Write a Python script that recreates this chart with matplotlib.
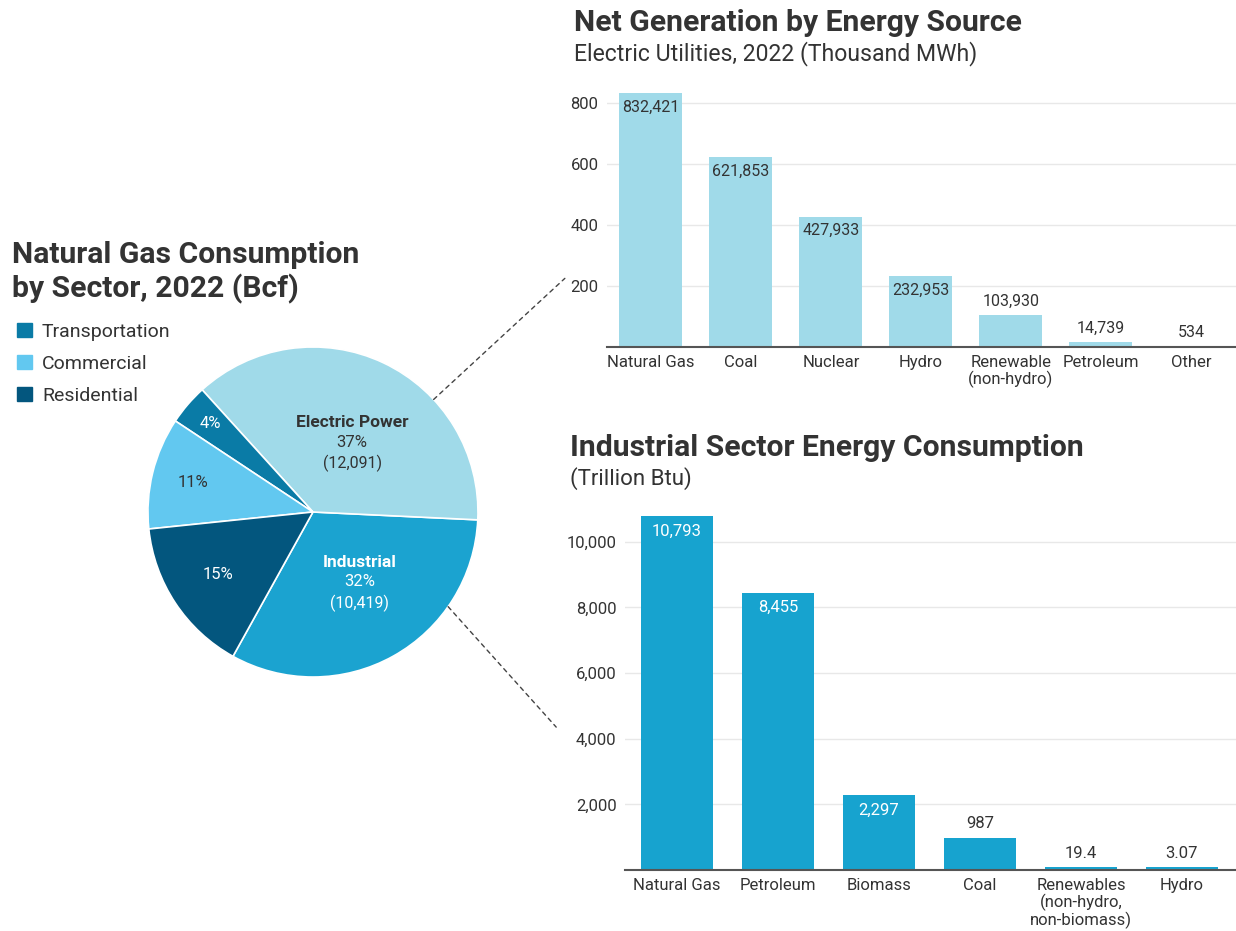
import numpy as np
import matplotlib
matplotlib.use("Agg")
import matplotlib.pyplot as plt
from matplotlib.patches import Patch, ConnectionPatch

plt.rcParams['font.family'] = ['Roboto', 'DejaVu Sans']

# --- data ---
sectors = ["Industrial", "Electric Power", "Transportation", "Commercial", "Residential"]
sector_bcf = [10419, 12091, 1282, 3531, 4936]
sector_colors = ["#1ba3d0", "#a0dae9", "#0a7ba6", "#62c8f0", "#03567e"]

gen_sources = ["Natural Gas", "Coal", "Nuclear", "Hydro", "Renewable\n(non-hydro)", "Petroleum", "Other"]
gen_values = [832421, 621853, 427933, 232953, 103930, 14739, 534]  # thousand MWh

ind_sources = ["Natural Gas", "Petroleum", "Biomass", "Coal", "Renewables\n(non-hydro,\nnon-biomass)", "Hydro"]
ind_values = [10793, 8455, 2297, 987, 19.4, 3.07]  # trillion Btu
ind_labels = ["10,793", "8,455", "2,297", "987", "19.4", "3.07"]

dark = "#333333"

fig = plt.figure(figsize=(12.36, 9.31), dpi=100)

# ---------------- pie ----------------
ax_pie = fig.add_axes([0.1197, 0.2728, 0.267, 0.3545])
total = sum(sector_bcf)
wedges, _ = ax_pie.pie(sector_bcf, colors=sector_colors, startangle=241, counterclock=True,
                       radius=1, wedgeprops=dict(edgecolor="white", linewidth=1.2))
ax_pie.set_xlim(-1, 1)
ax_pie.set_ylim(-1, 1)
ax_pie.set_aspect("equal")
ax_pie.axis("off")

# label placement: radius and angle shift from the wedge middle
label_r = [0.51, 0.486, 0.82, 0.75, 0.69]
label_shift = [4.7, -4.0, 0, 0, 0]
text_col = ["white", dark, "white", dark, "white"]
for w, name, val, r, sh, c in zip(wedges, sectors, sector_bcf, label_r, label_shift, text_col):
    mid = np.deg2rad((w.theta1 + w.theta2) / 2 + sh)
    x, y = r * np.cos(mid), r * np.sin(mid)
    pct = f"{val / total * 100:.0f}%"
    if name in ("Industrial", "Electric Power"):
        ax_pie.text(x, y + 0.12, name, ha="center", va="center", color=c,
                    fontsize=12.5, fontweight="bold")
        ax_pie.text(x, y, pct, ha="center", va="center", color=c, fontsize=12)
        ax_pie.text(x, y - 0.128, f"({val:,})", ha="center", va="center", color=c, fontsize=11.5)
    else:
        ax_pie.text(x, y, pct, ha="center", va="center", color=c, fontsize=12)

fig.text(0.0097, 0.7075, "Natural Gas Consumption\nby Sector, 2022 (Bcf)", fontsize=21.7,
         fontweight="bold", color=dark, va="center", linespacing=1.22)

handles = [Patch(color=sector_colors[i]) for i in (2, 3, 4)]
fig.legend(handles, ["Transportation", "Commercial", "Residential"], loc="upper left",
           bbox_to_anchor=(0.0138, 0.6535), frameon=False, fontsize=14, handlelength=0.78,
           handleheight=0.78, handletextpad=0.5, labelspacing=0.72, labelcolor=dark,
           borderpad=0, borderaxespad=0)

# connectors
for ang, fx, fy in [(43, 0.457, 0.701), (-35, 0.450, 0.219)]:
    a = np.deg2rad(ang)
    con = ConnectionPatch(xyA=(np.cos(a), np.sin(a)), coordsA=ax_pie.transData,
                          xyB=(fx, fy), coordsB=fig.transFigure,
                          linestyle=(0, (3, 3)), color="#444444", linewidth=1)
    fig.add_artist(con)


def style_bar_axis(ax):
    for s in ("top", "right", "left"):
        ax.spines[s].set_visible(False)
    ax.spines["bottom"].set_color("#555555")
    ax.spines["bottom"].set_linewidth(1.5)
    ax.yaxis.grid(True, color="#e8e8e8", linewidth=1)
    ax.set_axisbelow(True)
    ax.tick_params(axis="both", length=0, labelsize=12, colors=dark, pad=6)


# ---------------- top bars ----------------
ax1 = fig.add_axes([0.491, 0.6273, 0.509, 0.2782])
x1 = np.arange(len(gen_sources))
gen_k = np.array(gen_values) / 1000
ax1.bar(x1, np.maximum(gen_k, 2.5), width=0.7, color="#a0dae9")
ax1.set_xlim(-0.49, 6.5)
ax1.set_ylim(0, 850)
ax1.set_yticks([200, 400, 600, 800])
ax1.set_xticks(x1)
ax1.set_xticklabels(gen_sources, linespacing=1.05)
style_bar_axis(ax1)
for xi, v, vk in zip(x1, gen_values, gen_k):
    inside = vk > 200
    ax1.annotate(f"{v:,}", (xi, vk), xytext=(0, -10 if inside else 10), textcoords="offset points",
                 ha="center", va="center", fontsize=11.5, color=dark)

fig.text(0.4644, 0.975, "Net Generation by Energy Source", fontsize=21.7, fontweight="bold",
         color=dark, va="center")
fig.text(0.4644, 0.943, "Electric Utilities, 2022 (Thousand MWh)", fontsize=16.6,
         color=dark, va="center")

# ---------------- bottom bars ----------------
ax2 = fig.add_axes([0.5057, 0.0655, 0.4943, 0.3878])
x2 = np.arange(len(ind_sources))
ax2.bar(x2, np.maximum(ind_values, 90), width=0.71, color="#17a3cf")
ax2.set_xlim(-0.515, 5.535)
ax2.set_ylim(0, 11000)
ax2.set_yticks([2000, 4000, 6000, 8000, 10000])
ax2.set_yticklabels([f"{t:,}" for t in [2000, 4000, 6000, 8000, 10000]])
ax2.set_xticks(x2)
ax2.set_xticklabels(ind_sources, linespacing=1.05)
style_bar_axis(ax2)
for xi, v, lab in zip(x2, ind_values, ind_labels):
    inside = v > 2000
    h = max(v, 90)
    ax2.annotate(lab, (xi, h), xytext=(0, -11 if inside else 10), textcoords="offset points",
                 ha="center", va="center", fontsize=12, color="white" if inside else dark)

fig.text(0.4612, 0.519, "Industrial Sector Energy Consumption", fontsize=21.7, fontweight="bold",
         color=dark, va="center")
fig.text(0.4612, 0.486, "(Trillion Btu)", fontsize=16, color=dark, va="center")

fig.savefig("out.png", dpi=100, facecolor="white")
